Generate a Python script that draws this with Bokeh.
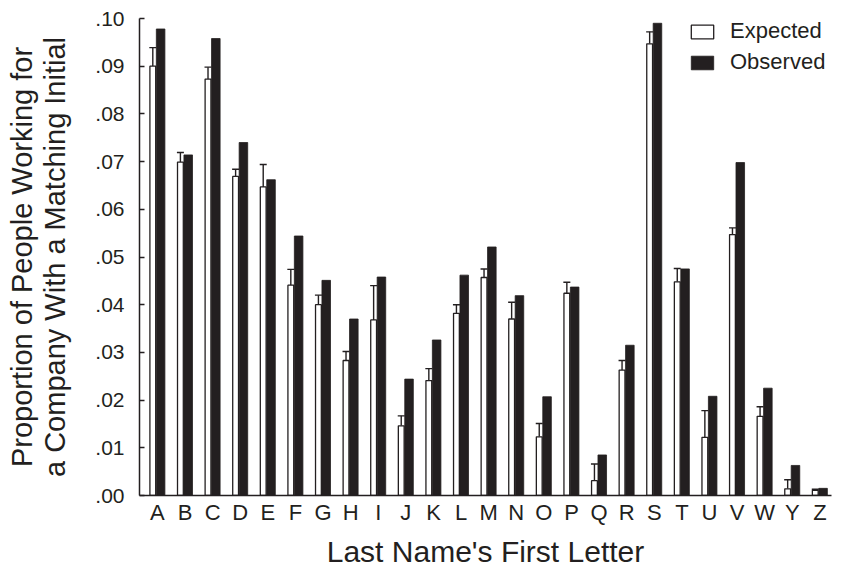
from bokeh.plotting import figure
from bokeh.models import Range1d, FixedTicker, Whisker, TeeHead, ColumnDataSource, Legend, LegendItem
from bokeh.transform import dodge
from bokeh.embed import file_html
from bokeh.resources import INLINE

letters = ["A", "B", "C", "D", "E", "F", "G", "H", "I", "J", "K", "L", "M",
           "N", "O", "P", "Q", "R", "S", "T", "U", "V", "W", "Y", "Z"]
expected = [0.0900, 0.0699, 0.0873, 0.0669, 0.0647, 0.0441, 0.0400, 0.0283, 0.0368,
            0.0146, 0.0241, 0.0382, 0.0457, 0.0370, 0.0123, 0.0424, 0.0031, 0.0263,
            0.0947, 0.0448, 0.0122, 0.0547, 0.0166, 0.0014, 0.0011]
expected_upper = [0.0939, 0.0719, 0.0898, 0.0684, 0.0694, 0.0474, 0.0420, 0.0302, 0.0440,
                  0.0167, 0.0266, 0.0400, 0.0475, 0.0405, 0.0151, 0.0447, 0.0066, 0.0283,
                  0.0972, 0.0476, 0.0178, 0.0561, 0.0186, 0.0033, 0.0013]
observed = [0.0978, 0.0714, 0.0958, 0.0740, 0.0662, 0.0544, 0.0451, 0.0370, 0.0458,
            0.0244, 0.0326, 0.0462, 0.0521, 0.0419, 0.0207, 0.0437, 0.0085, 0.0315,
            0.0990, 0.0475, 0.0208, 0.0698, 0.0225, 0.0063, 0.0015]
y_ticks = [0.00, 0.01, 0.02, 0.03, 0.04, 0.05, 0.06, 0.07, 0.08, 0.09, 0.10]
y_tick_labels = [".00", ".01", ".02", ".03", ".04", ".05", ".06", ".07", ".08", ".09", ".10"]
x_title = "Last Name's First Letter"
y_title = "Proportion of People Working for\na Company With a Matching Initial"

DARK = "#231f20"
FONT = "Liberation Sans"

idx = list(range(len(letters)))
src = ColumnDataSource(dict(x=idx, letter=letters, expected=expected,
                            upper=expected_upper, observed=observed))

p = figure(width=841, height=570, output_backend="svg", toolbar_location=None,
           x_range=Range1d(-0.65, 24.42), y_range=Range1d(0, 0.10),
           min_border_left=139, min_border_right=10, min_border_top=18, min_border_bottom=70)
p.outline_line_color = None
p.grid.visible = False
p.background_fill_color = "white"

r_exp = p.vbar(x=dodge("x", -0.168, range=p.x_range), top="expected", width=0.21, source=src,
               fill_color="white", line_color=DARK, line_width=1.3)
r_obs = p.vbar(x=dodge("x", 0.115, range=p.x_range), top="observed", width=0.31, source=src,
               fill_color=DARK, line_color=DARK, line_width=0.8)

wh = Whisker(source=src, base=dodge("x", -0.168, range=p.x_range), lower="expected", upper="upper",
             line_color=DARK, line_width=1.4, lower_head=None,
             upper_head=TeeHead(size=7, line_color=DARK, line_width=1.4))
p.add_layout(wh)

# x axis
xa = p.xaxis[0]
xa.ticker = FixedTicker(ticks=idx)
xa.major_label_overrides = {i: l for i, l in zip(idx, letters)}
xa.major_tick_in = 0
xa.major_tick_out = 0
xa.minor_tick_line_color = None
xa.axis_line_color = DARK
xa.axis_line_width = 1.5
xa.major_label_text_font = FONT
xa.major_label_text_font_size = "22px"
xa.major_label_text_color = DARK
xa.major_label_standoff = 4
xa.axis_label = x_title
xa.axis_label_text_font = FONT
xa.axis_label_text_font_size = "30px"
xa.axis_label_text_font_style = "normal"
xa.axis_label_text_color = DARK
xa.axis_label_standoff = 7

# y axis
ya = p.yaxis[0]
ya.ticker = FixedTicker(ticks=y_ticks)
ya.major_label_overrides = dict(zip(y_ticks, y_tick_labels))
ya.major_tick_in = 5
ya.major_tick_out = 0
ya.major_tick_line_color = DARK
ya.major_tick_line_width = 1.5
ya.minor_tick_line_color = None
ya.axis_line_color = DARK
ya.axis_line_width = 1.5
ya.major_label_text_font = FONT
ya.major_label_text_font_size = "21px"
ya.major_label_text_color = DARK
ya.major_label_standoff = 15
ya.axis_label = y_title
ya.axis_label_text_font = FONT
ya.axis_label_text_font_size = "29px"
ya.axis_label_text_font_style = "normal"
ya.axis_label_text_color = DARK
ya.axis_label_text_line_height = 1.05
ya.axis_label_standoff = 21

legend = Legend(items=[LegendItem(label="Expected", renderers=[r_exp]),
                       LegendItem(label="Observed", renderers=[r_obs])],
                location=(549, 420), padding=0, margin=0, border_line_color=None,
                background_fill_alpha=0, glyph_width=28, glyph_height=17,
                label_height=26, spacing=5, label_standoff=14,
                label_text_font=FONT, label_text_font_size="22px", label_text_color=DARK)
p.add_layout(legend)

open("out.html", "w").write(file_html(p, INLINE))
